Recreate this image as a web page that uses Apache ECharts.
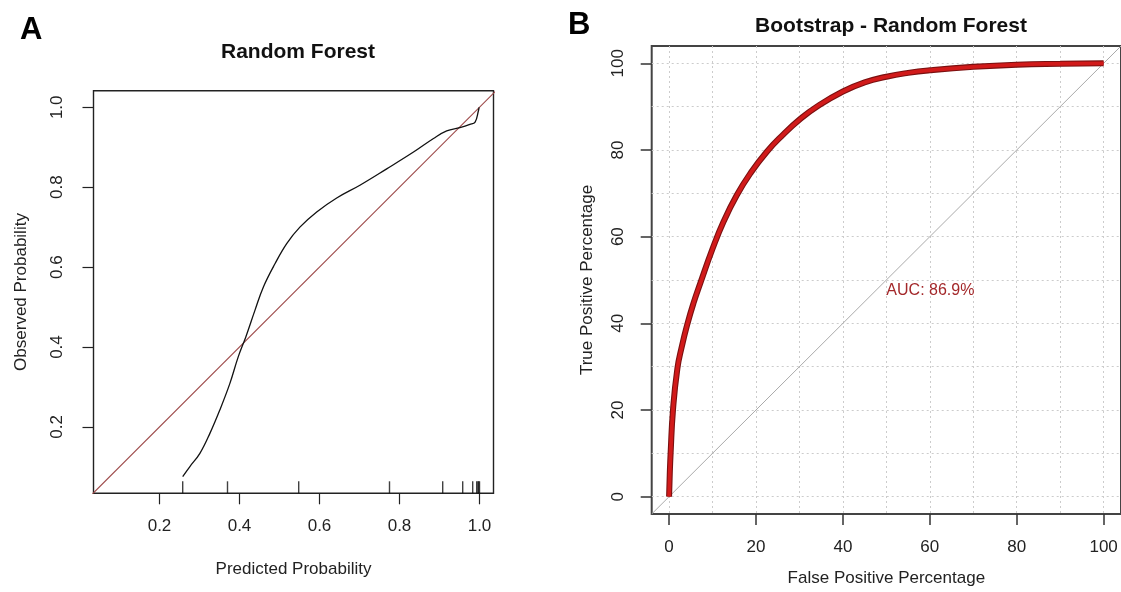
<!DOCTYPE html>
<html>
<head>
<meta charset="utf-8">
<script src="https://cdn.jsdelivr.net/npm/echarts@6/dist/echarts.min.js"></script>
<style>
html, body { margin: 0; background: #fff; }
#main { width: 1121px; height: 592px; }
</style>
</head>
<body>
<div id="main"></div>
<script>
// panel A: calibration curve
var calX = [0.258, 0.276, 0.301, 0.326, 0.351, 0.376, 0.397, 0.416, 0.439, 0.460, 0.489, 0.518, 0.551, 0.593, 0.643, 0.701, 0.768, 0.835, 0.885, 0.918, 0.951, 0.976, 0.989, 0.997, 0.999];
var calY = [0.076, 0.101, 0.134, 0.184, 0.243, 0.309, 0.376, 0.426, 0.493, 0.551, 0.609, 0.659, 0.700, 0.738, 0.773, 0.805, 0.846, 0.888, 0.922, 0.941, 0.949, 0.957, 0.963, 0.990, 1.000];
var rugX = [0.258, 0.370, 0.548, 0.775, 0.908, 0.958, 0.983, 0.993, 0.996, 0.998, 1.0];
var ticksA = [0.2, 0.4, 0.6, 0.8, 1.0];

// panel B: bootstrap ROC curve
var fpr = [0, 0.15, 0.35, 0.9, 1.9, 2.9, 4.2, 5.6, 7.2, 10, 12.6, 15.6, 18.7, 22.5, 26.3, 30, 34, 40, 45, 50, 55, 60, 70, 80, 90, 100];
var tpr = [0, 5, 10, 20, 29.5, 34.5, 39.8, 44.6, 49.3, 57.2, 63.6, 69.6, 74.6, 79.6, 83.6, 87, 90, 93.5, 95.6, 96.9, 97.8, 98.4, 99.2, 99.7, 99.9, 100];
var ticksB = [0, 20, 40, 60, 80, 100];
var gridB = [0, 10, 20, 30, 40, 50, 60, 70, 80, 90, 100];
var aucText = 'AUC: 86.9%';

var font = 'Liberation Sans, Arial, sans-serif';
var ink = '#222';

function pairs(xs, ys) {
    return xs.map(function (x, i) { return [x, ys[i]]; });
}

function tickAxis(opt) {
    var base = {
        type: 'value',
        axisLine: { show: false, onZero: false },
        axisTick: { show: true, inside: false, length: 11, customValues: opt.ticks, lineStyle: { color: ink, width: 1.2 } },
        axisLabel: { customValues: opt.ticks, margin: 25, fontSize: 17, color: ink, fontFamily: font },
        splitLine: { show: false },
        nameLocation: 'middle',
        nameTextStyle: { fontSize: 17, color: ink, fontFamily: font }
    };
    return echarts.util.merge(base, opt.extra, true);
}

function gridAxis(gi, lo, hi) {
    return {
        type: 'value', gridIndex: gi, min: lo, max: hi,
        axisLine: { show: false, onZero: false }, axisTick: { show: false, customValues: gridB },
        axisLabel: { show: false },
        splitLine: { show: true, lineStyle: { color: '#cccccc', type: [2, 3], width: 1 } }
    };
}

var myChart = echarts.init(document.getElementById('main'));

myChart.setOption({
    animation: false,
    graphic: [
        { type: 'text', left: 20, top: 15, style: { text: 'A', fontSize: 31, fontWeight: 'bold', fill: '#000', fontFamily: font } },
        { type: 'text', left: 568, top: 10, style: { text: 'B', fontSize: 31, fontWeight: 'bold', fill: '#000', fontFamily: font } }
    ],
    title: [
        { text: 'Random Forest', left: 293, top: 37, textAlign: 'center', textStyle: { fontSize: 21, fontWeight: 'bold', color: '#111', fontFamily: font } },
        { text: 'Bootstrap - Random Forest', left: 886, top: 11, textAlign: 'center', textStyle: { fontSize: 21, fontWeight: 'bold', color: '#111', fontFamily: font } }
    ],
    grid: [
        { left: 93.5, top: 90.7, width: 400, height: 402.6, show: true, borderColor: ink, borderWidth: 1.4 },
        { left: 651.7, top: 46, width: 472, height: 472, show: true, borderColor: '#444', borderWidth: 2 }
    ],
    xAxis: [
        tickAxis({ ticks: ticksA, extra: {
            gridIndex: 0, min: 0.035, max: 1.035, name: 'Predicted Probability', nameGap: 68,
            axisLabel: { formatter: function (v) { return v.toFixed(1); } }
        } }),
        tickAxis({ ticks: ticksB, extra: {
            gridIndex: 1, min: -4, max: 104, name: 'False Positive Percentage', nameGap: 56,
            axisTick: { lineStyle: { color: '#333', width: 1.5 } }
        } }),
        gridAxis(1, -4, 104)
    ],
    yAxis: [
        tickAxis({ ticks: ticksA, extra: {
            gridIndex: 0, min: 0.034, max: 1.0415, name: 'Observed Probability', nameGap: 64,
            axisLabel: { rotate: 90, margin: 28, formatter: function (v) { return v.toFixed(1); } }
        } }),
        tickAxis({ ticks: ticksB, extra: {
            gridIndex: 1, min: -4, max: 104, name: 'True Positive Percentage', nameGap: 56,
            axisLabel: { rotate: 90 },
            axisTick: { lineStyle: { color: '#333', width: 1.5 } }
        } }),
        gridAxis(1, -4, 104)
    ],
    series: [
        {
            type: 'line', xAxisIndex: 0, yAxisIndex: 0, data: [[0, 0], [1.1, 1.1]],
            symbol: 'none', lineStyle: { color: '#9e4b4b', width: 1.1 }, clip: true, silent: true
        },
        {
            type: 'line', xAxisIndex: 0, yAxisIndex: 0, data: pairs(calX, calY),
            symbol: 'none', smooth: 0.4, lineStyle: { color: '#111', width: 1.3 }
        },
        {
            type: 'scatter', xAxisIndex: 0, yAxisIndex: 0, clip: false,
            data: rugX.map(function (x) { return [x, 0.034]; }),
            symbol: 'rect', symbolSize: [1.4, 12], symbolOffset: [0, '-50%'],
            itemStyle: { color: '#111' }, silent: true
        },
        {
            type: 'line', xAxisIndex: 1, yAxisIndex: 1, data: [[-4, -4], [104, 104]],
            symbol: 'none', lineStyle: { color: '#aaaaaa', width: 1 }, silent: true
        },
        {
            type: 'line', xAxisIndex: 1, yAxisIndex: 1, data: pairs(fpr, tpr),
            symbol: 'none', smooth: 0.5, lineStyle: { color: '#7a1010', width: 6 }
        },
        {
            type: 'line', xAxisIndex: 1, yAxisIndex: 1, data: pairs(fpr, tpr),
            symbol: 'none', smooth: 0.5, lineStyle: { color: '#d11a1a', width: 3.8 },
            markPoint: {
                symbol: 'circle', symbolSize: 0,
                data: [{ coord: [50, 47.6], label: {
                    show: true, formatter: aucText, position: 'right', distance: 0,
                    color: '#a3282a', fontSize: 16, fontFamily: font
                } }]
            }
        }
    ]
});
</script>
</body>
</html>
